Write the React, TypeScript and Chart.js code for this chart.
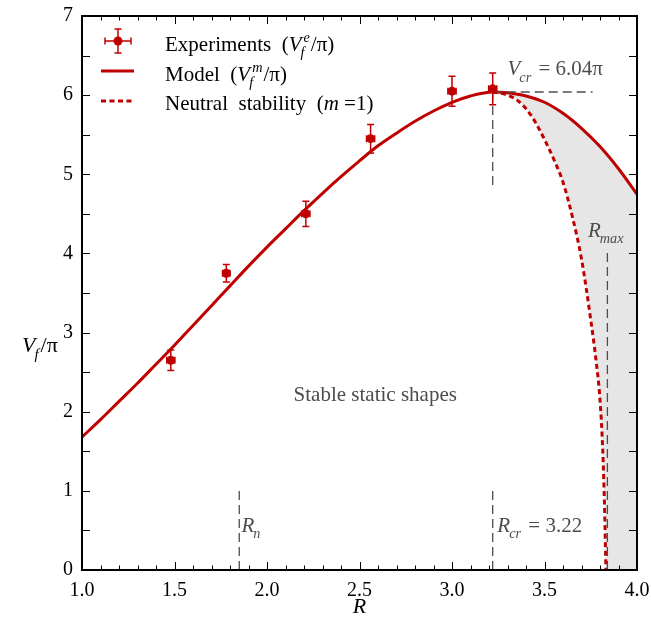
import React, { useEffect, useRef } from "react";
import { Chart, registerables } from "chart.js";

Chart.register(...registerables);

const RED = "#c00000";
const GRAY = "#4d4d4d";
const FILL = "#e6e6e6";
const FONT = "'Liberation Serif', 'Times New Roman', serif";

// Experiments (V_f^e / pi)
const expR = [1.48, 1.78, 2.21, 2.56, 3.0, 3.22];
const expV = [2.65, 3.75, 4.5, 5.45, 6.05, 6.08];
const expVErr = [0.13, 0.11, 0.16, 0.18, 0.19, 0.2];
const expRErr = [0.022, 0.02, 0.022, 0.022, 0.022, 0.022];

// Model (V_f^m / pi)
const modelR = [1.0, 1.1, 1.2, 1.3, 1.4, 1.5, 1.6, 1.7, 1.8, 1.9, 2.0, 2.1, 2.2, 2.3, 2.4, 2.5, 2.6, 2.7, 2.8, 2.9, 3.0, 3.1, 3.22, 3.3, 3.4, 3.5, 3.6, 3.7, 3.8, 3.9, 4.0];
const modelV = [1.68, 1.9, 2.13, 2.36, 2.6, 2.84, 3.09, 3.34, 3.59, 3.84, 4.08, 4.31, 4.54, 4.76, 4.97, 5.17, 5.36, 5.52, 5.67, 5.8, 5.91, 5.99, 6.04, 6.03, 5.99, 5.91, 5.77, 5.58, 5.35, 5.07, 4.75];

// Neutral stability (m = 1)
const neutralR = [3.22, 3.25, 3.3, 3.35, 3.4, 3.45, 3.5, 3.55, 3.6, 3.65, 3.7, 3.75, 3.78, 3.8, 3.815, 3.825, 3.832];
const neutralV = [6.04, 6.03, 6.0, 5.94, 5.83, 5.66, 5.44, 5.19, 4.9, 4.47, 3.93, 3.16, 2.62, 2.15, 1.5, 0.75, 0.0];

// Critical values
const Rn = 1.85;
const Rcr = 3.22;
const Rmax = 3.84;
const Vcr = 6.04;

// Axes
const xMin = 1.0;
const xMax = 4.0;
const xMajor = 0.5;
const xMinor = 0.1;
const yMin = 0;
const yMax = 7;
const yMajor = 1;
const yMinor = 0.5;

type Part = { t: string; it?: boolean; sub?: string; sup?: string };

function drawRich(ctx: CanvasRenderingContext2D, parts: Part[], x: number, y: number, size: number, color: string, align: "left" | "center" = "left") {
  const measure = () => {
    let w = 0;
    for (const p of parts) {
      ctx.font = `${p.it ? "italic " : ""}${size}px ${FONT}`;
      w += ctx.measureText(p.t).width;
      if (p.sub || p.sup) {
        ctx.font = `italic ${size * 0.68}px ${FONT}`;
        const a = p.sub ? ctx.measureText(p.sub).width : 0;
        const b = p.sup ? ctx.measureText(p.sup).width + (p.sub ? 2 : 0) : 0;
        w += Math.max(a, b) + 1;
      }
    }
    return w;
  };
  let cx = align === "center" ? x - measure() / 2 : x;
  ctx.save();
  ctx.fillStyle = color;
  ctx.textBaseline = "alphabetic";
  ctx.textAlign = "left";
  for (const p of parts) {
    ctx.font = `${p.it ? "italic " : ""}${size}px ${FONT}`;
    ctx.fillText(p.t, cx, y);
    cx += ctx.measureText(p.t).width;
    if (p.sub || p.sup) {
      const s = size * 0.68;
      ctx.font = `italic ${s}px ${FONT}`;
      let w = 0;
      if (p.sub) {
        ctx.fillText(p.sub, cx - 1, y + size * 0.3);
        w = Math.max(w, ctx.measureText(p.sub).width);
      }
      if (p.sup) {
        const off = p.sub ? 2 : 0;
        ctx.fillText(p.sup, cx + off, y - size * 0.42);
        w = Math.max(w, ctx.measureText(p.sup).width + off);
      }
      cx += w + 1;
    }
  }
  ctx.restore();
}

function errorMarker(ctx: CanvasRenderingContext2D, x: number, y: number, x0: number, x1: number, y0: number, y1: number, r: number) {
  ctx.save();
  ctx.strokeStyle = RED;
  ctx.fillStyle = RED;
  ctx.lineWidth = 1.5;
  ctx.beginPath();
  ctx.moveTo(x, y0);
  ctx.lineTo(x, y1);
  ctx.moveTo(x - 3.5, y0);
  ctx.lineTo(x + 3.5, y0);
  ctx.moveTo(x - 3.5, y1);
  ctx.lineTo(x + 3.5, y1);
  ctx.moveTo(x0, y);
  ctx.lineTo(x1, y);
  ctx.moveTo(x0, y - 3.5);
  ctx.lineTo(x0, y + 3.5);
  ctx.moveTo(x1, y - 3.5);
  ctx.lineTo(x1, y + 3.5);
  ctx.stroke();
  ctx.beginPath();
  ctx.arc(x, y, r, 0, Math.PI * 2);
  ctx.fill();
  ctx.restore();
}

const overlayPlugin = {
  id: "overlay",
  afterDatasetsDraw(chart: any) {
    const ctx: CanvasRenderingContext2D = chart.ctx;
    const xs = chart.scales.x;
    const ys = chart.scales.y;
    const X = (v: number) => xs.getPixelForValue(v);
    const Y = (v: number) => ys.getPixelForValue(v);

    // reference dashed lines
    ctx.save();
    ctx.strokeStyle = GRAY;
    ctx.lineWidth = 1.3;
    ctx.setLineDash([9, 5]);
    const seg = (a: number, b: number, c: number, d: number) => {
      ctx.beginPath();
      ctx.moveTo(X(a), Y(b));
      ctx.lineTo(X(c), Y(d));
      ctx.stroke();
    };
    seg(Rn, 0, Rn, 1.05);
    seg(Rcr, 0, Rcr, 1.05);
    seg(Rcr, Vcr, Rcr, 4.85);
    seg(Rcr, Vcr, 3.76, Vcr);
    seg(Rmax, 0, Rmax, 4.05);
    ctx.restore();

    // experiment error bars
    for (let i = 0; i < expR.length; i++) {
      errorMarker(ctx, X(expR[i]), Y(expV[i]), X(expR[i] - expRErr[i]), X(expR[i] + expRErr[i]), Y(expV[i] + expVErr[i]), Y(expV[i] - expVErr[i]), 4.5);
    }
  },
  afterDraw(chart: any) {
    const ctx: CanvasRenderingContext2D = chart.ctx;
    const xs = chart.scales.x;
    const ys = chart.scales.y;
    const X = (v: number) => xs.getPixelForValue(v);
    const Y = (v: number) => ys.getPixelForValue(v);
    const { left, right, top, bottom } = chart.chartArea;

    // frame + inward ticks on all sides
    ctx.save();
    ctx.strokeStyle = "#000";
    ctx.lineWidth = 1;
    ctx.beginPath();
    const nx = Math.round((xMax - xMin) / xMinor);
    for (let i = 0; i <= nx; i++) {
      const v = xMin + i * xMinor;
      const major = Math.abs(v / xMajor - Math.round(v / xMajor)) < 1e-6;
      const len = major ? 8 : 4.5;
      const px = Math.round(X(v)) + 0.5;
      ctx.moveTo(px, bottom);
      ctx.lineTo(px, bottom - len);
      ctx.moveTo(px, top);
      ctx.lineTo(px, top + len);
    }
    const ny = Math.round((yMax - yMin) / yMinor);
    for (let i = 0; i <= ny; i++) {
      const v = yMin + i * yMinor;
      const py = Math.round(Y(v)) + 0.5;
      ctx.moveTo(left, py);
      ctx.lineTo(left + 8, py);
      ctx.moveTo(right, py);
      ctx.lineTo(right - 8, py);
    }
    ctx.stroke();
    ctx.lineWidth = 2;
    ctx.strokeRect(left, top, right - left, bottom - top);
    ctx.restore();

    // annotations
    drawRich(ctx, [{ t: "V", it: true, sub: "cr" }, { t: " = 6.04π" }], X(3.3), Y(6.25), 21, GRAY);
    drawRich(ctx, [{ t: "R", it: true, sub: "max" }], X(3.735), Y(4.21), 21, GRAY);
    drawRich(ctx, [{ t: "R", it: true, sub: "n" }], X(1.862), Y(0.48), 21, GRAY);
    drawRich(ctx, [{ t: "R", it: true, sub: "cr" }, { t: " = 3.22" }], X(3.245), Y(0.48), 21, GRAY);
    drawRich(ctx, [{ t: "Stable static shapes" }], X(2.585), Y(2.14), 21, GRAY, "center");

    // axis titles
    drawRich(ctx, [{ t: "R", it: true }], (left + right) / 2, 613, 22, "#000", "center");
    drawRich(ctx, [{ t: "V", it: true, sub: "f" }, { t: "/π" }], 22, 352, 22, "#000");

    // legend
    errorMarker(ctx, 118, 41, 105, 131, 29, 53, 4.5);
    ctx.save();
    ctx.strokeStyle = RED;
    ctx.lineWidth = 3;
    ctx.beginPath();
    ctx.moveTo(101, 71);
    ctx.lineTo(134, 71);
    ctx.stroke();
    ctx.setLineDash([5, 3.5]);
    ctx.beginPath();
    ctx.moveTo(101, 101);
    ctx.lineTo(134, 101);
    ctx.stroke();
    ctx.restore();
    drawRich(ctx, [{ t: "Experiments  (" }, { t: "V", it: true, sub: "f", sup: "e" }, { t: "/π)" }], 165, 51, 21, "#000");
    drawRich(ctx, [{ t: "Model  (" }, { t: "V", it: true, sub: "f", sup: "m" }, { t: "/π)" }], 165, 81, 21, "#000");
    drawRich(ctx, [{ t: "Neutral  stability  (" }, { t: "m", it: true }, { t: " =1)" }], 165, 110, 21, "#000");
  },
};

export default function App() {
  const ref = useRef<HTMLCanvasElement | null>(null);

  useEffect(() => {
    document.body.style.margin = "0";
    const canvas = ref.current;
    if (!canvas) return;

    const modelPts = modelR.map((r, i) => ({ x: r, y: modelV[i] }));
    const neutralPts = neutralR.map((r, i) => ({ x: r, y: neutralV[i] }));
    const expPts = expR.map((r, i) => ({ x: r, y: expV[i] }));
    const fillPts = [
      ...modelPts.filter((p) => p.x >= Rcr),
      { x: xMax, y: yMin },
      ...neutralPts.slice().reverse(),
    ];

    const chart = new Chart(canvas, {
      type: "scatter",
      data: {
        datasets: [
          {
            label: "unstable",
            data: fillPts,
            showLine: true,
            borderWidth: 0,
            pointRadius: 0,
            backgroundColor: FILL,
            borderColor: "rgba(0,0,0,0)",
            fill: "shape",
            tension: 0,
            order: 3,
          } as any,
          {
            label: "Neutral stability (m=1)",
            data: neutralPts,
            showLine: true,
            borderColor: RED,
            borderWidth: 3,
            borderDash: [5, 3.5],
            pointRadius: 0,
            cubicInterpolationMode: "monotone",
            order: 2,
          },
          {
            label: "Model",
            data: modelPts,
            showLine: true,
            borderColor: RED,
            borderWidth: 3,
            pointRadius: 0,
            cubicInterpolationMode: "monotone",
            order: 1,
          },
          {
            label: "Experiments",
            data: expPts,
            showLine: false,
            pointRadius: 0,
            backgroundColor: RED,
            borderColor: RED,
            order: 0,
          },
        ],
      },
      options: {
        responsive: false,
        animation: false,
        layout: { padding: { left: 0, top: 16, right: 14, bottom: 0 } },
        plugins: { legend: { display: false }, tooltip: { enabled: false } },
        scales: {
          x: {
            type: "linear",
            min: xMin,
            max: xMax,
            grid: { display: false, drawTicks: false },
            border: { display: false },
            ticks: {
              stepSize: xMajor,
              padding: 9,
              color: "#000",
              font: { family: FONT, size: 20 },
              callback: (v: any) => Number(v).toFixed(1),
              maxRotation: 0,
            },
            afterFit: (s: any) => {
              s.height = 60;
              s.paddingLeft = 0;
              s.paddingRight = 0;
            },
          },
          y: {
            type: "linear",
            min: yMin,
            max: yMax,
            grid: { display: false, drawTicks: false },
            border: { display: false },
            ticks: {
              stepSize: yMajor,
              padding: 9,
              color: "#000",
              font: { family: FONT, size: 20 },
            },
            afterFit: (s: any) => {
              s.width = 82;
              s.paddingTop = 0;
              s.paddingBottom = 0;
            },
          },
        },
      },
      plugins: [overlayPlugin],
    });
    return () => chart.destroy();
  }, []);

  return (
    <div style={{ width: 651, height: 630, background: "#fff" }}>
      <canvas ref={ref} width={651} height={630} style={{ display: "block", width: 651, height: 630 }} />
    </div>
  );
}
